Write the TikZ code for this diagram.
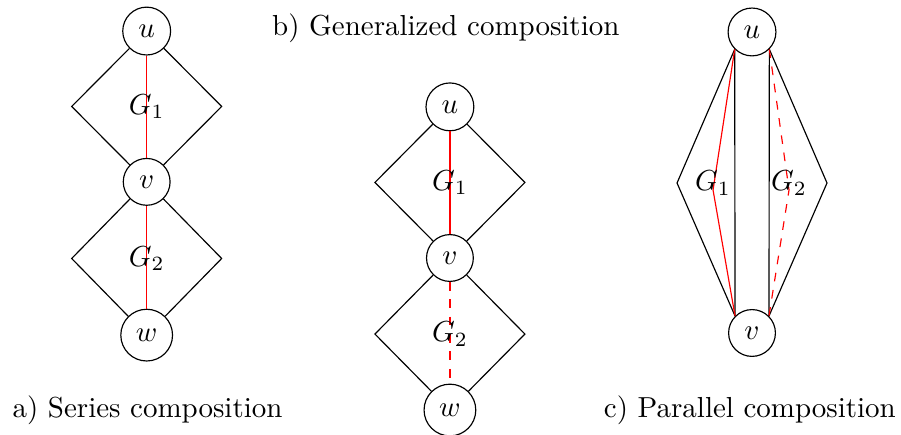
\documentclass[tikz,border=0pt]{standalone}
\usepackage{amsmath}
\usepackage{tikz}
\usetikzlibrary{calc}
\tikzset{vert/.style={circle, draw, black}}
\tikzset{pathedge/.style={red}}

\begin{document}
\begin{tikzpicture}
\useasboundingbox (0,0) rectangle (10.934,5.267);
% a) series
\node[vert] (ua) at (1.78,4.89) {$u$};
\node[vert] (va) at (1.78,3.06) {$v$};
\node[vert] (wa) at (1.78,1.20) {$w$};
\coordinate (la1) at (0.87,3.975);
\coordinate (ra1) at (2.69,3.975);
\coordinate (la2) at (0.87,2.13);
\coordinate (ra2) at (2.69,2.13);
\draw[pathedge] (ua) -- (va);
\draw[pathedge] (va) -- (wa);
\draw (ua) -- (la1) -- (va) -- (ra1) -- (ua);
\draw (va) -- (la2) -- (wa) -- (ra2) -- (va);
\node (ga1) at (1.78,3.975) {$G_1$};
\node (ga2) at (1.78,2.13) {$G_2$};
\node (capa) at (1.79,0.291) {a) Series composition};
% b) generalized
\node[vert] (ub) at (5.46,3.97) {$u$};
\node[vert] (vb) at (5.46,2.136) {$v$};
\node[vert] (wb) at (5.46,0.291) {$w$};
\coordinate (lb1) at (4.55,3.053);
\coordinate (rb1) at (6.37,3.053);
\coordinate (lb2) at (4.55,1.213);
\coordinate (rb2) at (6.37,1.213);
\draw[pathedge] (ub) -- (vb);
\draw[pathedge, dashed] (vb) -- (wb);
\draw (ub) -- (lb1) -- (vb) -- (rb1) -- (ub);
\draw (vb) -- (lb2) -- (wb) -- (rb2) -- (vb);
\node (gb1) at (5.46,3.053) {$G_1$};
\node (gb2) at (5.46,1.213) {$G_2$};
\node (capb) at (5.41,4.927) {b) Generalized composition};
% c) parallel
\node[vert] (uc) at (9.126,4.879) {$u$};
\node[vert] (vc) at (9.126,1.226) {$v$};
\coordinate (lc) at (8.216,3.046);
\coordinate (rc) at (10.036,3.046);
\coordinate (bl) at (8.653,2.961);
\coordinate (br) at (9.575,2.961);
\draw (uc.south west) -- (lc) -- (vc.north west);
\draw (uc.south east) -- (rc) -- (vc.north east);
\draw (uc.south west) -- (vc.north west);
\draw (uc.south east) -- (vc.north east);
\draw[pathedge] (uc.south west) -- (bl) -- (vc.north west);
\draw[pathedge, dashed] (uc.south east) -- (br) -- (vc.north east);
\node (gc1) at (8.653,3.046) {$G_1$};
\node (gc2) at (9.575,3.046) {$G_2$};
\node (capc) at (9.10,0.291) {c) Parallel composition};
\end{tikzpicture}
\end{document}
